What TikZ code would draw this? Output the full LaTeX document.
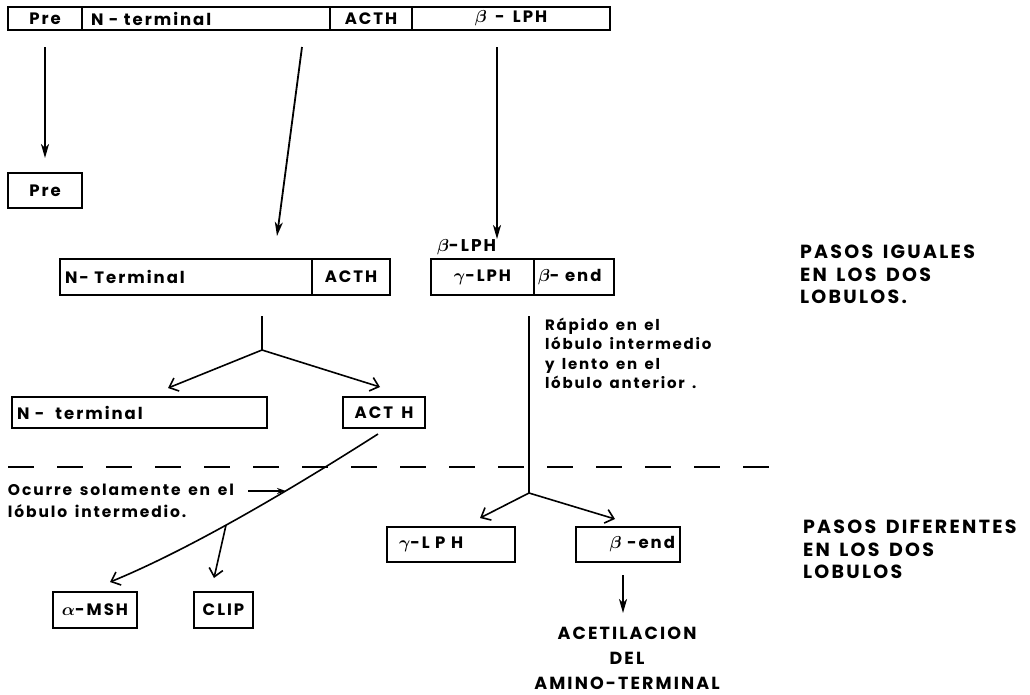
\documentclass[tikz,border=0pt]{standalone}
\usepackage{fontspec}
\setmainfont{Poppins}[LetterSpace=12, WordSpace=1.5]
\usetikzlibrary{arrows.meta}
\begin{document}
\boldmath
\begin{tikzpicture}[x=1pt,y=-1pt,
  every node/.style={outer sep=0pt},
  cell/.style={draw, line width=1.8pt, inner sep=0pt, anchor=north west, font=\bfseries\fontsize{16.5}{16.5}\selectfont},
  note/.style={font=\bfseries\fontsize{15}{19.5}\selectfont, align=left, anchor=north west, inner sep=0pt},
  captxt/.style={font=\bfseries\fontsize{19}{22.5}\selectfont, align=left, anchor=north west, inner sep=0pt},
  arr/.style={-{Stealth[length=14pt,width=8pt,inset=4pt]}, line width=1.8pt},
  barb/.style={-{Straight Barb[length=8pt,width=14pt]}, line width=1.6pt},
  ln/.style={line width=1.8pt}]
\useasboundingbox (0,0) rectangle (1030,694);

% top bar
\node[cell, minimum width=74pt, minimum height=23pt] (pre0) at (8,7) {Pre};
\node[cell, minimum width=248pt, minimum height=23pt, text width=230pt, inner xsep=9pt, align=left] (nt0) at (pre0.north east) {N - terminal};
\node[cell, minimum width=82pt, minimum height=23pt] (ac0) at (nt0.north east) {ACTH};
\node[cell, minimum width=198pt, minimum height=23pt] (bl0) at (ac0.north east) {$\beta$ - LPH};

% first products
\node[cell, minimum width=74pt, minimum height=35pt] (preB) at (8,173) {Pre};
\node[cell, minimum width=252pt, minimum height=36pt, text width=242pt, inner xsep=5pt, align=left] (ntB) at (60,259) {N- Terminal};
\node[cell, minimum width=78pt, minimum height=36pt] (acB) at (ntB.north east) {ACTH};
\node[cell, minimum width=103pt, minimum height=36pt] (glB) at (431,259) {$\gamma$-LPH};
\node[cell, minimum width=79pt, minimum height=36pt, text width=72pt, inner xsep=4pt, align=left] (beB) at (glB.north east) {$\beta$- end};
\node[anchor=south west, inner sep=0pt, font=\bfseries\fontsize{17}{17}\selectfont] (blab) at (437,255) {$\beta$-LPH};

\coordinate (n1) at (302,47);
\coordinate (n2) at (277,236);
\coordinate (b1) at (497,47);
\coordinate (b2) at (497,239);
\draw[arr, shorten <=17pt, shorten >=15pt] (pre0.south) -- (preB.north);
\draw[arr] (n1) -- (n2);
\draw[arr] (b1) -- (b2);

% captions
\node[captxt] (cap1) at (800,245) {PASOS IGUALES\\EN LOS DOS\\LOBULOS.};
\node[captxt] (cap2) at (803,520) {PASOS DIFERENTES\\EN LOS DOS\\LOBULOS};

% second products
\node[cell, minimum width=255pt, minimum height=31pt, text width=245pt, inner xsep=5pt, align=left] (ntC) at (12,397) {N - \ terminal};
\node[cell, minimum width=82pt, minimum height=31pt] (acC) at (343,397) {ACT H};

\coordinate (j1t) at (262,316);
\coordinate (j1) at (262,350);
\coordinate (t1) at (168,388);
\coordinate (t2) at (380,387);
\draw[ln] (j1t) -- (j1);
\draw[barb] (j1) -- (t1);
\draw[barb] (j1) -- (t2);

\node[note] (rap) at (545,318) {Rápido en el\\lóbulo intermedio\\y lento en el\\lóbulo anterior .};

% dashed separator
\coordinate (dl) at (8,467);
\coordinate (dr) at (778,467);
\draw[ln, dash pattern=on 26pt off 23pt] (dl) -- (dr);

% ACTH cleavage
\node[cell, minimum width=84pt, minimum height=36pt] (msh) at (53,592) {$\alpha$-MSH};
\node[cell, minimum width=59pt, minimum height=36pt] (clip) at (194,592) {CLIP};
\coordinate (c0) at (378,434);
\coordinate (c9) at (110,582);
\draw[barb] (c0) .. controls (264.7,506.3) and (175.3,555.3) .. (c9) coordinate[pos=0.5] (j2);
\coordinate (c8) at (214,578);
\draw[barb] (j2) -- (c8);

\node[note, font=\bfseries\fontsize{15.5}{22}\selectfont] (ocu) at (8,484) {Ocurre solamente en el\\lóbulo intermedio.};
\coordinate (o1) at (248,491);
\coordinate (o2) at (286,491);
\draw[-{Stealth[length=9pt,width=6pt]}, line width=1.6pt] (o1) -- (o2);

% beta-LPH cleavage
\coordinate (v0) at (529,316);
\coordinate (v1) at (529,493);
\coordinate (t3) at (480,518);
\coordinate (t4) at (615,519);
\draw[ln] (v0) -- (v1);
\draw[barb] (v1) -- (t3);
\draw[barb] (v1) -- (t4);

\node[cell, minimum width=128pt, minimum height=35pt, text width=104pt, inner xsep=12pt, align=left] (glC) at (387,527) {$\gamma$-L P H};
\node[cell, minimum width=104pt, minimum height=35pt, text width=94pt, inner xsep=5pt, align=right] (beC) at (576,527) {$\beta$ -end};

\coordinate (e1) at (623,575);
\coordinate (e2) at (623,613);
\draw[arr] (e1) -- (e2);
\node[font=\bfseries\fontsize{17.5}{25}\selectfont, align=center, inner sep=0pt] (acet) at (627,658) {ACETILACION\\DEL\\AMINO-TERMINAL};
\end{tikzpicture}
\end{document}
